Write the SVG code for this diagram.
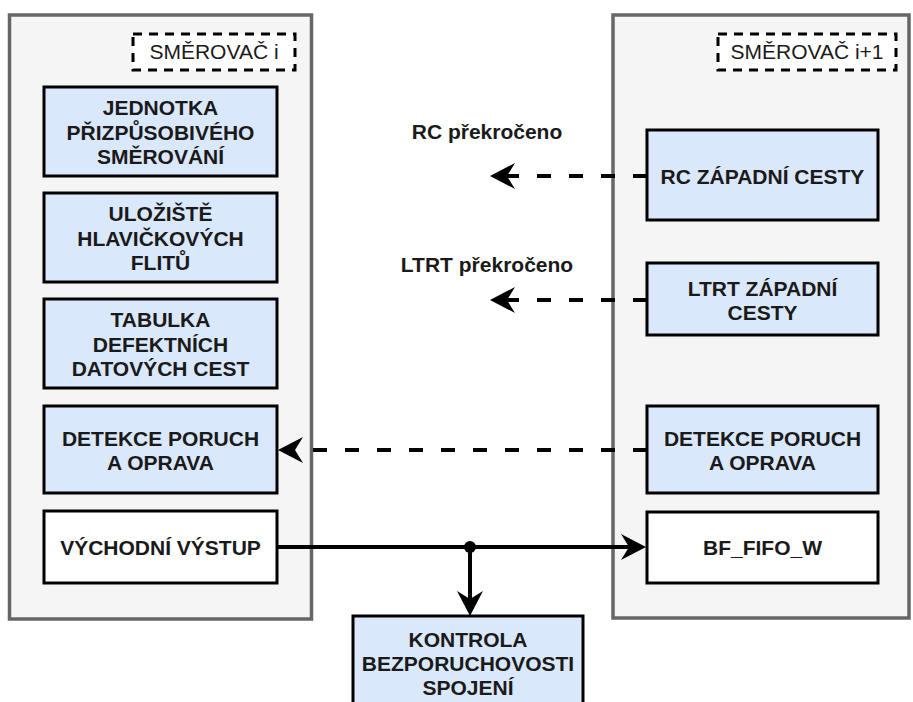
<svg xmlns="http://www.w3.org/2000/svg" width="913" height="702" viewBox="0 0 913 702">
<style>
.cont{fill:#f5f5f5;stroke:#666666;stroke-width:3.5}
.node{fill:#dae8fc;stroke:#000;stroke-width:3}
.wnode{fill:#ffffff;stroke:#000;stroke-width:3}
.tag{fill:#ffffff;stroke:#000;stroke-width:3;stroke-dasharray:9 7}
.t{font-family:"Liberation Sans",Arial,Helvetica,sans-serif;font-size:21px;font-weight:bold;fill:#1a1a1a;text-anchor:middle}
.n{font-family:"Liberation Sans",Arial,Helvetica,sans-serif;font-size:21px;fill:#1a1a1a;text-anchor:middle}
.dash{fill:none;stroke:#000;stroke-width:4;stroke-dasharray:14 18}
.solid{fill:none;stroke:#000;stroke-width:4}
</style>
<defs>
<marker id="arr" markerUnits="userSpaceOnUse" markerWidth="26" markerHeight="26" refX="8" refY="13" orient="auto" overflow="visible">
<path d="M0,0 L25,13 L0,26 L8,13 Z" fill="#000"/>
</marker>
</defs>
<g id="router-i">
<rect class="cont" x="9.5" y="15" width="302" height="604"/>
<rect class="tag" x="133" y="34" width="162" height="36"/>
<text class="n" x="214" y="59">SMĚROVAČ i</text>
</g>
<g id="router-i1">
<rect class="cont" x="613" y="15" width="296" height="603"/>
<rect class="tag" x="718" y="34" width="178" height="36"/>
<text class="n" x="807" y="59">SMĚROVAČ i+1</text>
</g>
<g id="jednotka">
<rect class="node" x="44" y="87" width="233" height="89"/>
<text class="t" x="160.5" y="115">JEDNOTKA</text>
<text class="t" x="160.5" y="139.5">PŘIZPŮSOBIVÉHO</text>
<text class="t" x="160.5" y="164">SMĚROVÁNÍ</text>
</g>
<g id="ulozište">
<rect class="node" x="44" y="193" width="233" height="89"/>
<text class="t" x="160.5" y="221">ULOŽIŠTĚ</text>
<text class="t" x="160.5" y="245.5">HLAVIČKOVÝCH</text>
<text class="t" x="160.5" y="270">FLITŮ</text>
</g>
<g id="tabulka">
<rect class="node" x="44" y="299" width="233" height="89"/>
<text class="t" x="160.5" y="327">TABULKA</text>
<text class="t" x="160.5" y="351.5">DEFEKTNÍCH</text>
<text class="t" x="160.5" y="376">DATOVÝCH CEST</text>
</g>
<g id="detekce-l">
<rect class="node" x="44" y="406" width="233" height="87"/>
<text class="t" x="160.5" y="445.5">DETEKCE PORUCH</text>
<text class="t" x="160.5" y="470">A OPRAVA</text>
</g>
<g id="vychodni">
<rect class="wnode" x="44" y="511" width="233" height="72"/>
<text class="t" x="160.5" y="555">VÝCHODNÍ VÝSTUP</text>
</g>
<g id="rc">
<rect class="node" x="647" y="130" width="231" height="90"/>
<text class="t" x="762.5" y="184">RC ZÁPADNÍ CESTY</text>
</g>
<g id="ltrt">
<rect class="node" x="647" y="263" width="231" height="72"/>
<text class="t" x="762.5" y="295.5">LTRT ZÁPADNÍ</text>
<text class="t" x="762.5" y="320">CESTY</text>
</g>
<g id="detekce-r">
<rect class="node" x="647" y="406" width="231" height="87"/>
<text class="t" x="762.5" y="445.5">DETEKCE PORUCH</text>
<text class="t" x="762.5" y="470">A OPRAVA</text>
</g>
<g id="bffifo">
<rect class="wnode" x="647" y="512" width="231" height="71"/>
<text class="t" x="762.5" y="555">BF_FIFO_W</text>
</g>
<g id="kontrola">
<rect class="node" x="353" y="616" width="230" height="100"/>
<text class="t" x="468" y="646.5">KONTROLA</text>
<text class="t" x="468" y="670.5">BEZPORUCHOVOSTI</text>
<text class="t" x="468" y="694.5">SPOJENÍ</text>
</g>
<g id="labels">
<text class="t" x="487" y="139">RC překročeno</text>
<text class="t" x="487" y="272">LTRT překročeno</text>
</g>
<g id="connectors">
<path class="dash" d="M647,176 L507,176" marker-end="url(#arr)"/>
<path class="dash" d="M647,300 L507,300" marker-end="url(#arr)"/>
<path class="dash" d="M647,450 L295,450" marker-end="url(#arr)"/>
<path class="solid" d="M277,547 L629,547" marker-end="url(#arr)"/>
<path class="solid" d="M470,547 L470,599" marker-end="url(#arr)"/>
<circle cx="470" cy="547" r="6" fill="#000"/>
</g>
</svg>
